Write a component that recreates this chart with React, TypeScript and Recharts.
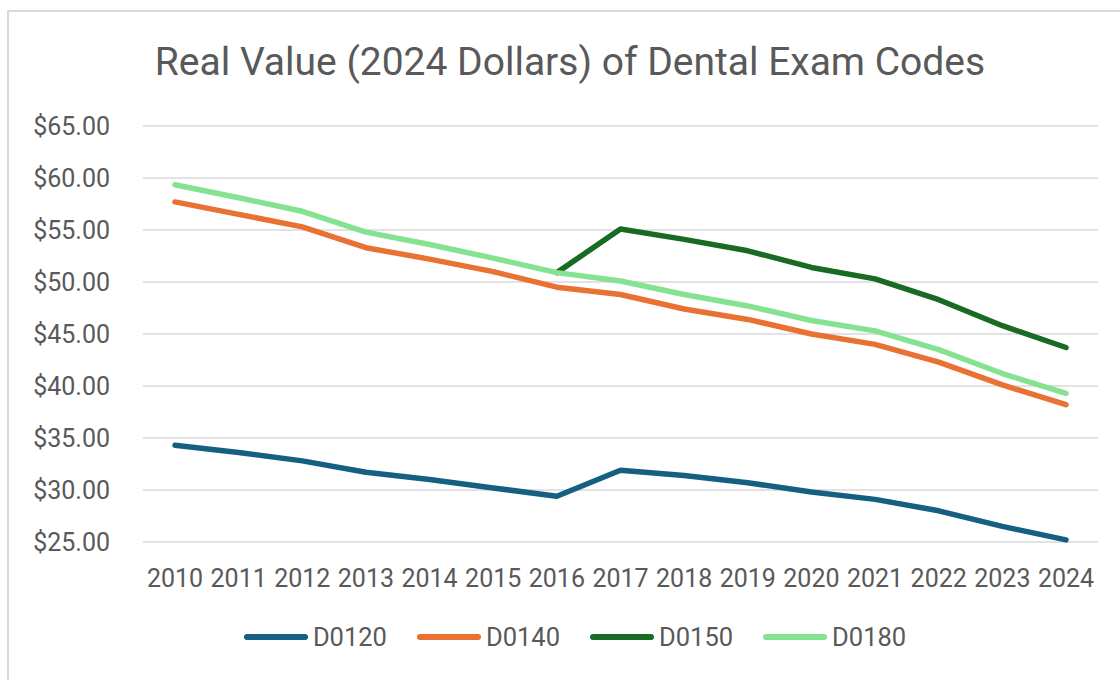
import React from "react";
import {
  CartesianGrid,
  Legend,
  Line,
  LineChart,
  XAxis,
  YAxis,
} from "recharts";

const years = [
  "2010", "2011", "2012", "2013", "2014", "2015", "2016", "2017",
  "2018", "2019", "2020", "2021", "2022", "2023", "2024",
];

const d0120 = [34.3, 33.6, 32.8, 31.7, 31.0, 30.2, 29.4, 31.9, 31.4, 30.7, 29.8, 29.1, 28.0, 26.5, 25.2];
const d0140 = [57.7, 56.5, 55.3, 53.3, 52.2, 51.0, 49.5, 48.8, 47.4, 46.4, 45.0, 44.0, 42.3, 40.1, 38.2];
const d0150 = [null, null, null, null, null, null, 50.9, 55.1, 54.1, 53.0, 51.4, 50.3, 48.3, 45.8, 43.7];
const d0180 = [59.35, 58.1, 56.8, 54.8, 53.6, 52.3, 50.9, 50.1, 48.8, 47.7, 46.3, 45.3, 43.5, 41.2, 39.3];

const yTicks = [25, 30, 35, 40, 45, 50, 55, 60, 65];

const series = [
  { key: "D0120", color: "#156082" },
  { key: "D0140", color: "#E97132" },
  { key: "D0150", color: "#196B24" },
  { key: "D0180", color: "#84E291" },
];

const data = years.map((year, i) => ({
  year,
  D0120: d0120[i],
  D0140: d0140[i],
  D0150: d0150[i],
  D0180: d0180[i],
}));

const FONT = "Roboto, 'Liberation Sans', sans-serif";
const TEXT = "#595959";

const LegendContent = () => (
  <div
    style={{
      display: "flex",
      justifyContent: "center",
      alignItems: "center",
      height: 50,
      paddingLeft: 52,
      fontFamily: FONT,
      fontSize: 25.5,
      color: TEXT,
    }}
  >
    {series.map((s) => (
      <div key={s.key} style={{ display: "flex", alignItems: "center", margin: "0 15px" }}>
        <span
          style={{
            display: "inline-block",
            width: 64,
            height: 6,
            borderRadius: 3,
            background: s.color,
            marginRight: 5,
          }}
        />
        <span>{s.key}</span>
      </div>
    ))}
  </div>
);

export default function App() {
  return (
    <div style={{ position: "absolute", left: 0, top: 0, width: 1120, height: 680, background: "#fff", overflow: "hidden" }}>
      <div
        style={{
          position: "absolute",
          left: 7,
          top: 10,
          width: 1130,
          height: 690,
          borderTop: "2px solid #d9d9d9",
          borderLeft: "2px solid #d9d9d9",
        }}
      />
      <div
        style={{
          position: "absolute",
          left: 0,
          top: 39,
          width: 1140,
          textAlign: "center",
          fontFamily: FONT,
          fontSize: 39,
          color: TEXT,
        }}
      >
        Real Value (2024 Dollars) of Dental Exam Codes
      </div>
      <LineChart
        width={1120}
        height={680}
        data={data}
        margin={{ top: 126, right: 22, bottom: 18, left: 0 }}
      >
        <CartesianGrid vertical={false} stroke="#d9d9d9" strokeWidth={1.5} />
        <XAxis
          dataKey="year"
          height={70}
          axisLine={false}
          tickLine={false}
          tickSize={0}
          tickMargin={27}
          interval={0}
          padding={{ left: 32, right: 32 }}
          tick={{ fill: TEXT, fontSize: 25, fontFamily: FONT }}
        />
        <YAxis
          width={143}
          domain={[25, 65]}
          ticks={yTicks}
          axisLine={false}
          tickLine={false}
          tickSize={0}
          tickMargin={33}
          tickFormatter={(v: number) => `$${v.toFixed(2)}`}
          tick={{ fill: TEXT, fontSize: 25, fontFamily: FONT }}
        />
        <Legend verticalAlign="bottom" height={50} content={<LegendContent />} />
        {series.map((s) => (
          <Line
            key={s.key}
            type="linear"
            dataKey={s.key}
            stroke={s.color}
            strokeWidth={5.5}
            strokeLinecap="round"
            strokeLinejoin="round"
            dot={false}
            activeDot={false}
            connectNulls={false}
            isAnimationActive={false}
          />
        ))}
      </LineChart>
    </div>
  );
}
